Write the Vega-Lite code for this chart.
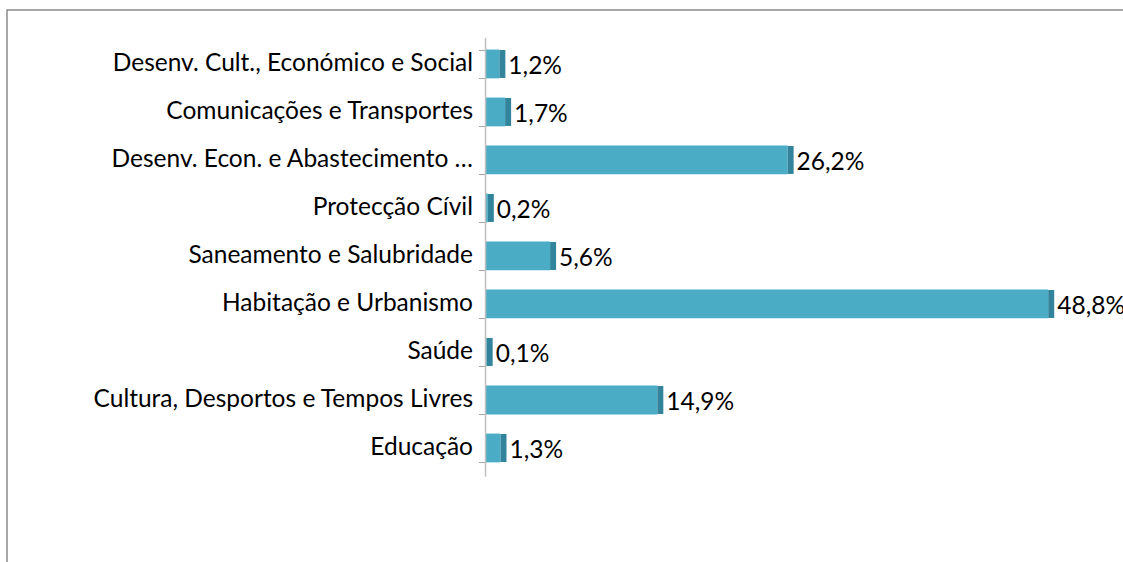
{
  "$schema": "https://vega.github.io/schema/vega-lite/v6.json",
  "width": 1130,
  "height": 560,
  "autosize": "none",
  "padding": {"left": 7, "top": 10, "right": 0, "bottom": 0},
  "background": "white",
  "config": {
    "view": {"stroke": "#8a8a8a", "strokeWidth": 1.5},
    "font": "Lato",
    "locale": {"number": {"decimal": ",", "thousands": ".", "grouping": [3], "currency": ["", " €"]}}
  },
  "data": {"values": [
    {"cat": "Desenv. Cult., Económico e Social", "v": 0.012},
    {"cat": "Comunicações e Transportes", "v": 0.017},
    {"cat": "Desenv. Econ. e Abastecimento …", "v": 0.262},
    {"cat": "Protecção Cívil", "v": 0.002},
    {"cat": "Saneamento e Salubridade", "v": 0.056},
    {"cat": "Habitação e Urbanismo", "v": 0.488},
    {"cat": "Saúde", "v": 0.001},
    {"cat": "Cultura, Desportos e Tempos Livres", "v": 0.149},
    {"cat": "Educação", "v": 0.013}
  ]},
  "encoding": {
    "y": {
      "field": "cat", "type": "nominal", "sort": null,
      "scale": {
        "domain": ["Desenv. Cult., Económico e Social", "Comunicações e Transportes", "Desenv. Econ. e Abastecimento …", "Protecção Cívil", "Saneamento e Salubridade", "Habitação e Urbanismo", "Saúde", "Cultura, Desportos e Tempos Livres", "Educação", " ", "  "],
        "paddingInner": 0.4, "paddingOuter": 0.533, "align": 0.773
      },
      "axis": {
        "title": null, "offset": -478.5, "domain": false,
        "values": ["Desenv. Cult., Económico e Social", "Comunicações e Transportes", "Desenv. Econ. e Abastecimento …", "Protecção Cívil", "Saneamento e Salubridade", "Habitação e Urbanismo", "Saúde", "Cultura, Desportos e Tempos Livres", "Educação"],
        "tickBand": "extent", "tickColor": "#a6a6a6", "tickSize": 7,
        "labelPadding": 6, "labelFontSize": 24.5, "labelColor": "#000000",
        "labelFont": "Lato", "labelLimit": 0
      }
    },
    "x": {
      "field": "v", "type": "quantitative",
      "scale": {"domain": [-0.415, 0.565], "nice": false, "zero": false},
      "axis": null
    }
  },
  "layer": [
    {"mark": {"type": "bar", "color": "#4bacc6"}},
    {"mark": {"type": "tick", "orient": "vertical", "color": "#31849b", "opacity": 1, "thickness": 6, "size": 28, "xOffset": 3}},
    {"mark": {"type": "text", "align": "left", "baseline": "middle", "dx": 9, "dy": 3, "fontSize": 24.5, "color": "#000000"},
     "encoding": {"text": {"field": "v", "type": "quantitative", "format": ".1%"}}},
    {"data": {"values": [{"v": 0}]},
     "mark": {"type": "rule", "color": "#bfbfbf", "strokeWidth": 1.5},
     "encoding": {
       "x": {"field": "v", "type": "quantitative"},
       "y": {"datum": "Desenv. Cult., Económico e Social", "bandPosition": -0.4},
       "y2": {"datum": "Educação", "bandPosition": 1.5}
     }}
  ]
}
